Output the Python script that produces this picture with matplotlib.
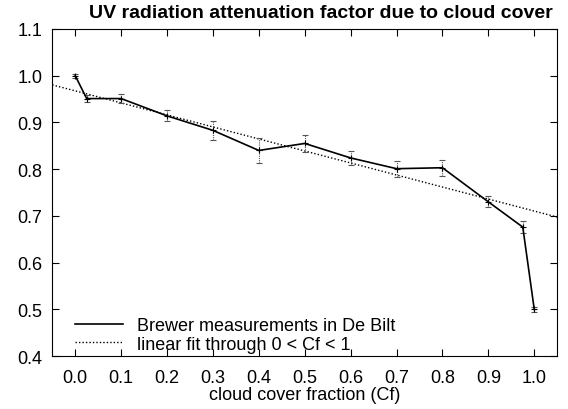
import numpy as np
import matplotlib
matplotlib.use('Agg')
import matplotlib.pyplot as plt
from matplotlib.lines import Line2D

# cloud cover fraction and attenuation factor (Brewer, De Bilt)
cf = [0.0, 0.025, 0.1, 0.2, 0.3, 0.4, 0.5, 0.6, 0.7, 0.8, 0.9, 0.975, 1.0]
factor = [1.0, 0.951, 0.951, 0.914, 0.883, 0.840, 0.855, 0.824, 0.801, 0.803, 0.730, 0.676, 0.500]
err = [0.004, 0.008, 0.010, 0.012, 0.020, 0.027, 0.018, 0.015, 0.017, 0.017, 0.012, 0.012, 0.005]

xticks = [0.0, 0.1, 0.2, 0.3, 0.4, 0.5, 0.6, 0.7, 0.8, 0.9, 1.0]
yticks = [0.4, 0.5, 0.6, 0.7, 0.8, 0.9, 1.0, 1.1]

plt.rcParams['font.family'] = ['Liberation Sans', 'DejaVu Sans']
plt.rcParams['font.size'] = 13

fig = plt.figure(figsize=(5.68, 4.10), dpi=100)
ax = fig.add_axes([0.092, 0.129, 0.889, 0.798])

# linear fit using only 0 < Cf < 1
x = np.array(cf)
y = np.array(factor)
sel = (x > 0) & (x < 1)
slope, icpt = np.polyfit(x[sel], y[sel], 1)
xf = np.array([-0.05, 1.05])
ax.plot(xf, slope * xf + icpt, color='black', lw=1.0, ls=(0, (1, 1.5)), zorder=2)

line, caps, bars = ax.errorbar(cf, factor, yerr=err, color='black', lw=1.2,
                               marker='+', ms=5, mew=0.8,
                               ecolor='#555555', elinewidth=0.8, capsize=2.5,
                               capthick=0.6, zorder=3)
bars[0].set_linestyle((0, (1, 1)))

ax.set_xlim(-0.05, 1.05)
ax.set_ylim(0.4, 1.1)
ax.set_xticks(xticks)
ax.set_yticks(yticks)
ax.set_xticklabels(['%.1f' % v for v in xticks])
ax.set_yticklabels(['%.1f' % v for v in yticks])
ax.tick_params(direction='in', top=True, right=True, length=5, width=0.8)
ax.tick_params(axis='x', pad=9)
ax.tick_params(axis='y', pad=7)
for s in ax.spines.values():
    s.set_linewidth(0.8)

ax.set_xlabel('cloud cover fraction (Cf)', labelpad=0)
fig.text(0.565, 0.967, 'UV radiation attenuation factor due to cloud cover',
         fontweight='bold', fontsize=14, ha='center', va='center')

handles = [Line2D([], [], color='black', lw=1.2),
           Line2D([], [], color='black', lw=1.0, ls=(0, (1, 1.5)))]
labels = ['Brewer measurements in De Bilt', 'linear fit through 0 < Cf < 1']
ax.legend(handles, labels, loc='lower left', frameon=False,
          handlelength=2.66, handletextpad=0.74, labelspacing=0.1,
          borderaxespad=0.0, bbox_to_anchor=(0.031, -0.012))

fig.savefig('out.png', dpi=100)
